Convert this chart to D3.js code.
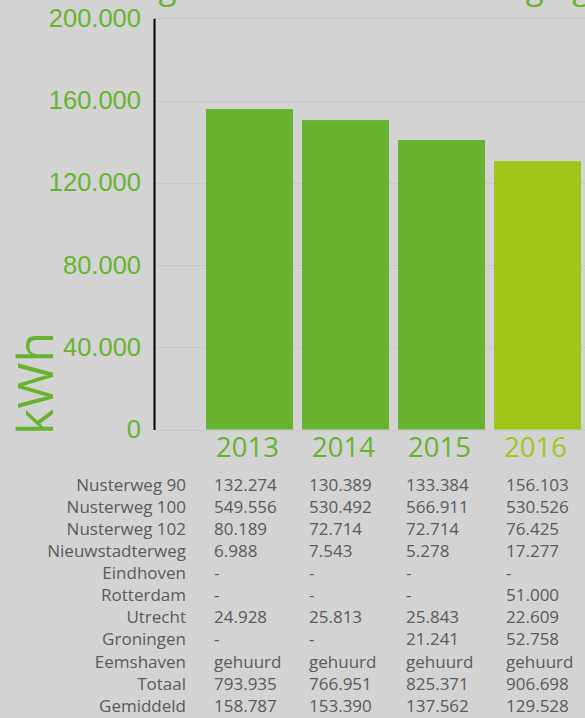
<!DOCTYPE html>
<meta charset="utf-8">
<style>
body {
  margin: 0;
  background: #d3d3d3;
}
svg {
  display: block;
  font-family: "Open Sans", sans-serif;
}
.grid line {
  stroke: #c7c7c7;
  stroke-width: 1;
}
.axis--y .domain {
  stroke: #000;
  stroke-width: 2;
}
.axis--y text {
  fill: #67b32f;
  font-size: 25.5px;
}
.table text {
  fill: #5a5a5a;
  font-size: 17px;
}
</style>
<body>
<svg width="585" height="718"></svg>
</body>
<script src="https://d3js.org/d3.v7.min.js"></script>
<script>

// years and bar heights
var years = ["2013", "2014", "2015", "2016"];
var barValues = [155900, 150500, 140800, 130500];
var yTicks = [0, 40000, 80000, 120000, 160000, 200000];

// table under the chart
var rowLabels = ["Nusterweg 90", "Nusterweg 100", "Nusterweg 102", "Nieuwstadterweg",
  "Eindhoven", "Rotterdam", "Utrecht", "Groningen", "Eemshaven", "Totaal", "Gemiddeld"];
var col2013 = [132274, 549556, 80189, 6988, null, null, 24928, null, "gehuurd", 793935, 158787];
var col2014 = [130389, 530492, 72714, 7543, null, null, 25813, null, "gehuurd", 766951, 153390];
var col2015 = [133384, 566911, 72714, 5278, null, null, 25843, 21241, "gehuurd", 825371, 137562];
var col2016 = [156103, 530526, 76425, 17277, null, 51000, 22609, 52758, "gehuurd", 906698, 129528];
var columns = [col2013, col2014, col2015, col2016];

var green = "#67b32f",
    lime = "#a0c519";

var nl = d3.formatLocale({decimal: ",", thousands: ".", grouping: [3], currency: ["€", ""]});
var fmt = nl.format(",d");

var svg = d3.select("svg");

var x = d3.scaleBand()
    .domain(years)
    .range([201.5, 585.5])
    .paddingInner(0.094)
    .paddingOuter(0.047);

var y = d3.scaleLinear()
    .domain([0, 200000])
    .range([429.5, 18.3]);

// title, mostly cut off at the top edge (as in the original)
svg.append("text")
    .attr("x", 88)
    .attr("y", -1)
    .attr("fill", green)
    .style("font-size", "33px")
    .text("Energieverbruik elektra vestiging");

// gridlines
svg.append("g")
    .attr("class", "grid")
  .selectAll("line")
  .data(yTicks)
  .enter().append("line")
    .attr("x1", 155)
    .attr("x2", 585)
    .attr("y1", function(d) { return Math.round(y(d)) + 0.5; })
    .attr("y2", function(d) { return Math.round(y(d)) + 0.5; });

// bars
svg.append("g")
  .selectAll("rect")
  .data(years)
  .enter().append("rect")
    .attr("x", function(d) { return x(d); })
    .attr("y", function(d, i) { return y(barValues[i]); })
    .attr("width", x.bandwidth())
    .attr("height", function(d, i) { return y(0) - y(barValues[i]); })
    .attr("fill", function(d, i) { return i == 3 ? lime : green; });

// y axis
svg.append("g")
    .attr("class", "axis axis--y")
    .attr("transform", "translate(154,0)")
    .call(d3.axisLeft(y).tickValues(yTicks).tickSize(0).tickSizeOuter(0).tickPadding(13).tickFormat(fmt));

// year labels
svg.append("g")
  .selectAll("text")
  .data(years)
  .enter().append("text")
    .attr("x", function(d) { return x(d) + x.bandwidth() / 2 - 2; })
    .attr("y", 457)
    .attr("text-anchor", "middle")
    .attr("fill", function(d, i) { return i == 3 ? lime : green; })
    .style("font-size", "27.5px")
    .text(function(d) { return d; });

// unit label
svg.append("text")
    .attr("transform", "translate(53,435) rotate(-90)")
    .attr("fill", green)
    .style("font-size", "50px")
    .text("kWh");

// table
var table = svg.append("g").attr("class", "table");
var rowY = function(i) { return 491 + i * 22.07; };
var colX = [214, 309, 406, 506];

table.selectAll(".label")
  .data(rowLabels)
  .enter().append("text")
    .attr("class", "label")
    .attr("x", 186)
    .attr("y", function(d, i) { return rowY(i); })
    .attr("text-anchor", "end")
    .text(function(d) { return d; });

columns.forEach(function(col, c) {
  table.selectAll(".c" + c)
    .data(col)
    .enter().append("text")
      .attr("class", "c" + c)
      .attr("x", colX[c])
      .attr("y", function(d, i) { return rowY(i); })
      .text(function(d) {
        if (d === null) return "-";
        if (typeof d === "string") return d;
        return fmt(d);
      });
});

</script>
